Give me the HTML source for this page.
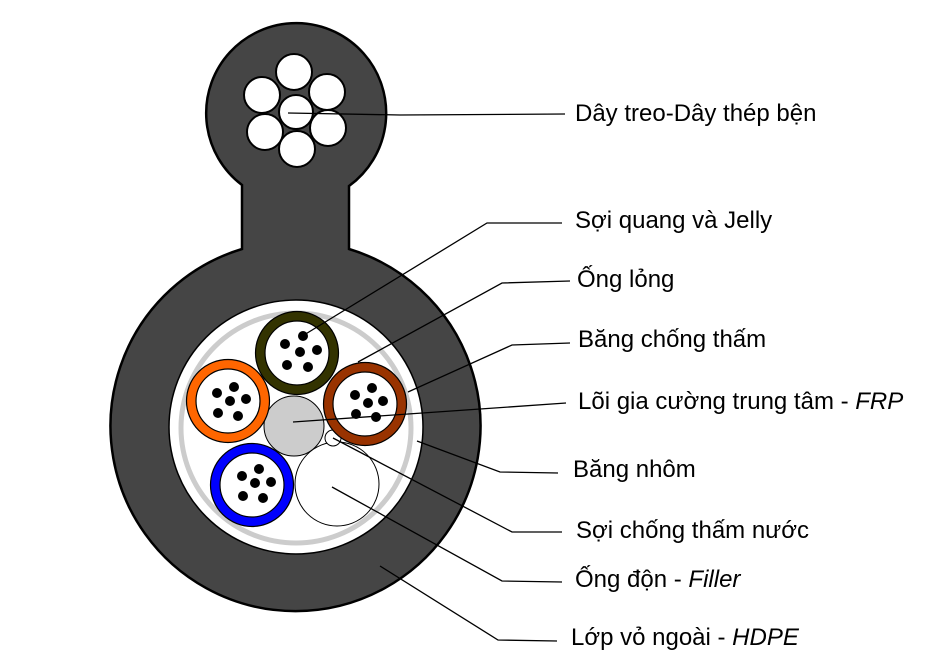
<!DOCTYPE html>
<html>
<head>
<meta charset="utf-8">
<style>
html,body{margin:0;padding:0;background:#fff;}
svg{display:block;}
text{font-family:"Liberation Sans",Arial,sans-serif;font-size:24px;fill:#000;}
</style>
</head>
<body>
<svg width="948" height="672" viewBox="0 0 948 672" xmlns="http://www.w3.org/2000/svg">
  <!-- outer jacket shape -->
  <path d="M242,185 A90,90 0 1,1 349,186 L349,249 A185,185 0 1,1 242,249 Z" fill="#454545" stroke="#000" stroke-width="2.5"/>

  <!-- steel strands -->
  <g fill="#fff" stroke="#000" stroke-width="2">
    <circle cx="294" cy="72" r="18"/>
    <circle cx="262" cy="95" r="18"/>
    <circle cx="327" cy="92" r="18"/>
    <circle cx="265" cy="132" r="18"/>
    <circle cx="328" cy="128" r="18"/>
    <circle cx="296" cy="112" r="17"/>
    <circle cx="297" cy="149" r="18"/>
  </g>

  <!-- inner core -->
  <circle cx="296" cy="427" r="127" fill="#fff" stroke="#000" stroke-width="1.5"/>
  <circle cx="296" cy="428" r="115" fill="none" stroke="#cccccc" stroke-width="5"/>

  <!-- central FRP -->
  <circle cx="294" cy="426" r="30" fill="#cccccc" stroke="#000" stroke-width="1"/>
  <!-- filler -->
  <circle cx="337" cy="484" r="42" fill="#fff" stroke="#000" stroke-width="1"/>
  <!-- water blocking yarn -->
  <circle cx="333" cy="438" r="8" fill="#fff" stroke="#000" stroke-width="1"/>

  <!-- tubes -->
  <g stroke="#000" stroke-width="1.2">
    <circle cx="297" cy="353" r="41.5" fill="#333300"/>
    <circle cx="297" cy="353" r="32" fill="#fff"/>
    <circle cx="228" cy="401" r="41.5" fill="#ff6600"/>
    <circle cx="228" cy="401" r="32" fill="#fff"/>
    <circle cx="365" cy="404" r="41.5" fill="#993300"/>
    <circle cx="365" cy="404" r="32" fill="#fff"/>
    <circle cx="252" cy="485" r="41.5" fill="#0000ff"/>
    <circle cx="252" cy="485" r="32" fill="#fff"/>
  </g>

  <!-- fibers -->
  <g fill="#000">
    <circle cx="303" cy="336" r="5"/><circle cx="285" cy="344" r="5"/><circle cx="300" cy="352" r="5"/>
    <circle cx="317" cy="350" r="5"/><circle cx="287" cy="365" r="5"/><circle cx="308" cy="367" r="5"/>

    <circle cx="234" cy="387" r="5"/><circle cx="217" cy="393" r="5"/><circle cx="230" cy="401" r="5"/>
    <circle cx="246" cy="399" r="5"/><circle cx="218" cy="413" r="5"/><circle cx="238" cy="416" r="5"/>

    <circle cx="372" cy="388" r="5"/><circle cx="355" cy="395" r="5"/><circle cx="368" cy="403" r="5"/>
    <circle cx="383" cy="401" r="5"/><circle cx="356" cy="414" r="5"/><circle cx="376" cy="417" r="5"/>

    <circle cx="259" cy="469" r="5"/><circle cx="242" cy="476" r="5"/><circle cx="255" cy="483" r="5"/>
    <circle cx="271" cy="482" r="5"/><circle cx="243" cy="496" r="5"/><circle cx="263" cy="498" r="5"/>
  </g>

  <!-- leader lines -->
  <g fill="none" stroke="#000" stroke-width="1.3">
    <polyline points="288,113 400,115 565,114"/>
    <polyline points="304,335 487,223 562,223"/>
    <polyline points="358,362 502,283 570,281"/>
    <polyline points="408,392 512,345 570,343"/>
    <polyline points="293,422 566,403"/>
    <polyline points="417,441 500,472 558,473"/>
    <polyline points="333,438 512,532 562,532"/>
    <polyline points="332,487 502,581 562,582"/>
    <polyline points="380,566 498,640 557,641"/>
  </g>

  <!-- labels -->
  <text x="575" y="121">Dây treo-Dây thép bện</text>
  <text x="575" y="228">Sợi quang và Jelly</text>
  <text x="577" y="287">Ống lỏng</text>
  <text x="578" y="347">Băng chống thấm</text>
  <text x="578" y="409">Lõi gia cường trung tâm - <tspan font-style="italic">FRP</tspan></text>
  <text x="573" y="477">Băng nhôm</text>
  <text x="576" y="538">Sợi chống thấm nước</text>
  <text x="575" y="587">Ống độn - <tspan font-style="italic">Filler</tspan></text>
  <text x="571" y="645">Lớp vỏ ngoài - <tspan font-style="italic">HDPE</tspan></text>
</svg>
</body>
</html>
